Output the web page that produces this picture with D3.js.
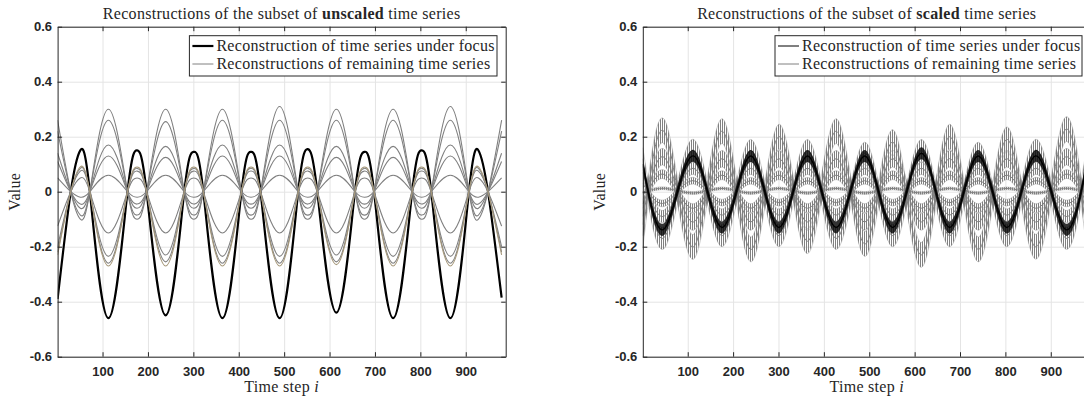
<!DOCTYPE html>
<html>
<head>
<meta charset="utf-8">
<script src="https://cdn.jsdelivr.net/npm/d3@7"></script>
<style>
body { margin: 0; background: #fff; }
svg { display: block; }
.axis text { font-family: 'Liberation Sans', Arial, sans-serif; font-weight: bold; font-size: 13px; fill: #262626; }
.axis path, .axis line { stroke: #262626; }
.grid line { stroke: #e4e4e4; }
.grid path { display: none; }
.serif { font-family: 'Liberation Serif', 'Times New Roman', serif; font-size: 16px; letter-spacing: 0.3px; fill: #262626; }
</style>
</head>
<body>
<svg id="canvas" width="1084" height="399"></svg>
<script>
// time steps where the curves peak / dip, plus both ends
let extremaSteps = [1, 51, 113, 176, 239, 301, 364, 427, 490, 552, 615, 677, 740, 803, 866, 928, 979]
// steps where the unscaled curves cross zero
let crossSteps = [30, 72, 155, 197, 280, 322, 406, 448, 531, 573, 656, 698, 782, 824, 907, 949]

let xTicks = [100, 200, 300, 400, 500, 600, 700, 800, 900]
let yTicks = [-0.6, -0.4, -0.2, 0, 0.2, 0.4, 0.6]

// unscaled panel, values at extremaSteps
let unscaledFocus = [-0.39, 0.15, -0.46, 0.15, -0.45, 0.145, -0.46, 0.145, -0.46, 0.155, -0.44, 0.145, -0.46, 0.15, -0.46, 0.15, -0.385]
let unscaledOthers = [
    [0.26, -0.10, 0.30, -0.10, 0.30, -0.10, 0.30, -0.10, 0.31, -0.10, 0.30, -0.10, 0.30, -0.10, 0.31, -0.10, 0.26],
    [0.22, -0.085, 0.26, -0.085, 0.255, -0.085, 0.26, -0.085, 0.26, -0.085, 0.26, -0.085, 0.26, -0.085, 0.26, -0.085, 0.22],
    [0.14, -0.06, 0.17, -0.06, 0.165, -0.06, 0.17, -0.06, 0.17, -0.06, 0.165, -0.06, 0.165, -0.06, 0.17, -0.06, 0.14],
    [0.11, -0.045, 0.13, -0.045, 0.125, -0.045, 0.13, -0.045, 0.13, -0.045, 0.125, -0.045, 0.125, -0.045, 0.13, -0.045, 0.11],
    [0.05, -0.02, 0.06, -0.02, 0.06, -0.02, 0.06, -0.02, 0.06, -0.02, 0.06, -0.02, 0.06, -0.02, 0.06, -0.02, 0.05],
    [-0.125, 0.05, -0.15, 0.05, -0.15, 0.05, -0.15, 0.05, -0.15, 0.05, -0.15, 0.05, -0.15, 0.05, -0.15, 0.05, -0.125],
    [-0.20, 0.075, -0.235, 0.075, -0.23, 0.075, -0.235, 0.075, -0.235, 0.075, -0.23, 0.075, -0.235, 0.075, -0.235, 0.075, -0.20],
    [-0.22, 0.085, -0.26, 0.085, -0.255, 0.085, -0.26, 0.085, -0.26, 0.085, -0.255, 0.085, -0.26, 0.085, -0.26, 0.085, -0.22]
]
let unscaledTan = [-0.23, 0.09, -0.27, 0.09, -0.27, 0.09, -0.27, 0.09, -0.27, 0.09, -0.265, 0.09, -0.27, 0.09, -0.27, 0.09, -0.23]

// scaled panel: centre of each noisy band at extremaSteps, and the band half width
let scaledFocus = [0.10, -0.13, 0.13, -0.13, 0.13, -0.13, 0.13, -0.13, 0.13, -0.13, 0.14, -0.13, 0.13, -0.13, 0.13, -0.13, 0.10]
let scaledFocusSpread = 0.022
let scaledOthers = [
    [-0.16, 0.21, -0.20, 0.22, -0.21, 0.20, -0.18, 0.22, -0.19, 0.18, -0.23, 0.20, -0.21, 0.19, -0.20, 0.215, -0.16],
    [0.12, -0.16, 0.15, -0.16, 0.15, -0.16, 0.15, -0.17, 0.14, -0.16, 0.15, -0.16, 0.14, -0.16, 0.15, -0.16, 0.12],
    [-0.09, 0.12, -0.11, 0.12, -0.11, 0.12, -0.11, 0.12, -0.11, 0.12, -0.11, 0.12, -0.11, 0.12, -0.11, 0.12, -0.09],
    [0.07, -0.085, 0.085, -0.085, 0.085, -0.085, 0.085, -0.085, 0.085, -0.085, 0.085, -0.085, 0.085, -0.085, 0.085, -0.085, 0.07],
    [-0.045, 0.06, -0.06, 0.06, -0.06, 0.06, -0.06, 0.06, -0.06, 0.06, -0.06, 0.06, -0.06, 0.06, -0.06, 0.06, -0.045],
    [0.03, -0.04, 0.04, -0.04, 0.04, -0.04, 0.04, -0.04, 0.04, -0.04, 0.04, -0.04, 0.04, -0.04, 0.04, -0.04, 0.03],
    [-0.004, 0.012, -0.005, 0.012, -0.005, 0.012, -0.005, 0.012, -0.005, 0.012, -0.005, 0.012, -0.005, 0.012, -0.005, 0.012, -0.004]
]
let scaledSpreads = [0.045, 0.04, 0.03, 0.022, 0.016, 0.012, 0.005]

let legendLabels = ['Reconstruction of time series under focus', 'Reconstructions of remaining time series']

let canvas = d3.select('#canvas')
let plotTop = 26.7, plotBottom = 356.7

let y = d3.scaleLinear().domain([-0.6, 0.6]).range([plotBottom, plotTop])

// vertical hatching stands in for the jagged noise of the scaled series
let defs = canvas.append('defs')
let hatch = (id, color, offset) => {
    let p = defs.append('pattern').attr('id', id).attr('patternUnits', 'userSpaceOnUse')
        .attr('x', 0).attr('y', 0).attr('width', 2).attr('height', 2)
    p.append('rect').attr('x', offset).attr('y', 0).attr('width', 1).attr('height', 2).attr('fill', color)
}
hatch('hatchGray0', '#808080', 0)
hatch('hatchGray1', '#808080', 1)

let withCrossings = (vals) => {
    let pts = extremaSteps.map((s, i) => ({ step: s, value: vals[i] }))
    crossSteps.forEach((s) => pts.push({ step: s, value: 0 }))
    return pts.sort((a, b) => a.step - b.step)
}
let atExtrema = (vals) => extremaSteps.map((s, i) => ({ step: s, value: vals[i] }))

let drawFrame = (g, x, id) => {
    let left = x.range()[0], right = x.range()[1]
    let h = plotBottom - plotTop

    g.append('g').attr('class', 'grid').attr('transform', `translate(0,${plotBottom})`)
        .call(d3.axisBottom(x).tickValues(xTicks).tickSize(-h).tickFormat(''))
    g.append('g').attr('class', 'grid').attr('transform', `translate(${left},0)`)
        .call(d3.axisLeft(y).tickValues(yTicks).tickSize(-(right - left)).tickFormat(''))

    g.append('clipPath').attr('id', id)
        .append('rect').attr('x', left).attr('y', plotTop).attr('width', right - left).attr('height', h)
    return g.append('g').attr('clip-path', `url(#${id})`)
}

let drawAxes = (g, x) => {
    let left = x.range()[0], right = x.range()[1]
    let fmt = (d) => d === 0 ? '0' : d.toFixed(1)
    g.append('g').attr('class', 'axis').attr('transform', `translate(0,${plotBottom})`)
        .call(d3.axisBottom(x).tickValues(xTicks).tickSizeInner(-4.5).tickSizeOuter(0).tickPadding(10.5))
    g.append('g').attr('class', 'axis').attr('transform', `translate(0,${plotTop})`)
        .call(d3.axisTop(x).tickValues(xTicks).tickSizeInner(-4.5).tickSizeOuter(0).tickFormat(''))
    g.append('g').attr('class', 'axis').attr('transform', `translate(${left},0)`)
        .call(d3.axisLeft(y).tickValues(yTicks).tickSizeInner(-4.5).tickSizeOuter(0).tickPadding(5.5).tickFormat(fmt))
    g.append('g').attr('class', 'axis').attr('transform', `translate(${right},0)`)
        .call(d3.axisRight(y).tickValues(yTicks).tickSizeInner(-4.5).tickSizeOuter(0).tickFormat(''))
    g.selectAll('.axis path').attr('stroke-width', 1)
}

let drawTexts = (g, x, word) => {
    let left = x.range()[0], right = x.range()[1]
    let cx = (left + right) / 2
    let t = g.append('text').attr('class', 'serif').attr('x', cx).attr('y', 19).attr('text-anchor', 'middle')
    t.append('tspan').text('Reconstructions of the subset of ')
    t.append('tspan').attr('font-weight', 'bold').text(word)
    t.append('tspan').text(' time series')

    let xl = g.append('text').attr('class', 'serif').attr('x', cx).attr('y', 392).attr('text-anchor', 'middle')
    xl.append('tspan').text('Time step ')
    xl.append('tspan').attr('font-style', 'italic').text('i')

    g.append('text').attr('class', 'serif')
        .attr('transform', `translate(${left - 38},${(plotTop + plotBottom) / 2}) rotate(-90)`)
        .attr('text-anchor', 'middle').text('Value')
}

let drawLegend = (g, boxLeft, boxRight, focusWidth) => {
    g.append('rect').attr('x', boxLeft).attr('y', 35.7).attr('width', boxRight - boxLeft).attr('height', 40.3)
        .attr('fill', '#fff').attr('stroke', '#262626').attr('stroke-width', 1)
    let rows = [{ y: 46, color: '#000', w: focusWidth }, { y: 64, color: '#808080', w: 1 }]
    rows.forEach((r, i) => {
        g.append('line').attr('x1', boxLeft + 3).attr('x2', boxLeft + 24).attr('y1', r.y).attr('y2', r.y)
            .attr('stroke', r.color).attr('stroke-width', r.w)
        g.append('text').attr('class', 'serif').attr('x', boxLeft + 27).attr('y', r.y + 5).text(legendLabels[i])
    })
}

// left panel: unscaled
let xL = d3.scaleLinear().domain([1, 988]).range([57.6, 505.7])
let gL = canvas.append('g')
let plotL = drawFrame(gL, xL, 'clipL')
let lineL = d3.line().x((d) => xL(d.step)).y((d) => y(d.value)).curve(d3.curveNatural)

plotL.append('path').datum(withCrossings(unscaledFocus)).attr('d', lineL)
    .attr('fill', 'none').attr('stroke', '#000').attr('stroke-width', 2.2)
plotL.selectAll('.other').data(unscaledOthers).enter().append('path').attr('class', 'other')
    .attr('d', (vals) => lineL(withCrossings(vals)))
    .attr('fill', 'none').attr('stroke', '#808080').attr('stroke-width', 1.1)
plotL.append('path').datum(withCrossings(unscaledTan)).attr('d', lineL)
    .attr('fill', 'none').attr('stroke', '#a6987a').attr('stroke-width', 1.1)

drawAxes(gL, xL)
drawTexts(gL, xL, 'unscaled')
drawLegend(gL, 189.4, 497, 2.2)

// right panel: scaled (runs past the picture edge)
let xR = d3.scaleLinear().domain([1, 988]).range([642.8, 1090.7])
let gR = canvas.append('g')
let plotR = drawFrame(gR, xR, 'clipR')
let band = (spread) => d3.area().x((d) => xR(d.step))
    .y0((d) => y(d.value - spread)).y1((d) => y(d.value + spread)).curve(d3.curveNatural)
let lineR = d3.line().x((d) => xR(d.step)).y((d) => y(d.value)).curve(d3.curveNatural)

plotR.selectAll('.other').data(scaledOthers).enter().append('path').attr('class', 'other')
    .attr('d', (vals, i) => band(scaledSpreads[i])(atExtrema(vals)))
    .attr('fill', (vals, i) => `url(#hatchGray${i % 2})`)
    .attr('stroke', '#8a8a8a').attr('stroke-width', 0.6).attr('stroke-opacity', 0.7)
plotR.selectAll('.mid').data(scaledOthers).enter().append('path').attr('class', 'mid')
    .attr('d', (vals) => lineR(atExtrema(vals)))
    .attr('fill', 'none').attr('stroke', '#808080').attr('stroke-width', 1)
plotR.append('path').datum(atExtrema(scaledFocus)).attr('d', band(scaledFocusSpread))
    .attr('fill', '#000').attr('fill-opacity', 0.8)
plotR.append('path').datum(atExtrema(scaledFocus)).attr('d', lineR)
    .attr('fill', 'none').attr('stroke', '#000').attr('stroke-width', 1.4)

drawAxes(gR, xR)
drawTexts(gR, xR, 'scaled')
drawLegend(gR, 775, 1082, 1)
</script>
</body>
</html>
